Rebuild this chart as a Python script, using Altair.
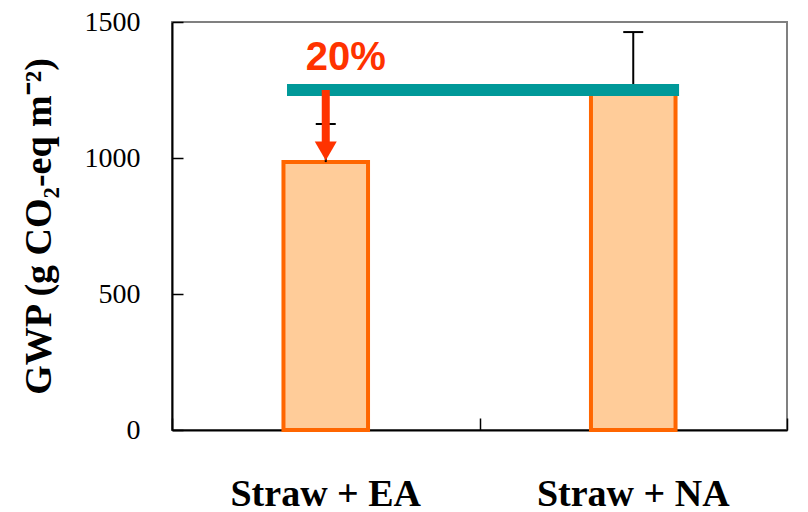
import altair as alt
import pandas as pd

# Treatments and their global warming potential (g CO2-eq m-2)
treatments = ["Straw + EA", "Straw + NA"]
gwp_mean = [985, 1235]
gwp_err = [140, 228]

# Reference level of the Straw + NA treatment drawn across both bars
level_start = "Straw + EA"
level_end = "Straw + NA"
level_value = 1250

# Reduction arrow (data units) and its label
arrow_top = 1250
arrow_shaft_end = 1048
arrow_head = 1026
reduction_text = "20%"
reduction_label_y = 1324

y_ticks = [0, 500, 1000, 1500]

bars_df = pd.DataFrame({
    "treatment": treatments,
    "mean": gwp_mean,
    "upper": [m + e for m, e in zip(gwp_mean, gwp_err)],
})
level_df = pd.DataFrame({"start": [level_start], "end": [level_end], "level": [level_value]})
arrow_df = pd.DataFrame({
    "treatment": [treatments[0]],
    "top": [arrow_top],
    "shaft_end": [arrow_shaft_end],
    "head": [arrow_head],
    "label_y": [reduction_label_y],
    "label": [reduction_text],
})

W, H = 615, 408
xscale = alt.Scale(domain=treatments, paddingInner=0, paddingOuter=0)
yscale = alt.Scale(domain=[0, 1500], nice=False, zero=True)

main_x_axis = alt.Axis(
    orient="bottom", title="", ticks=False, tickSize=0, grid=False,
    labelAngle=0, labelPadding=75, labelBaseline="alphabetic", labelLimit=0,
    labelFont="Liberation Serif", labelFontWeight="bold", labelFontSize=38,
    labelColor="black", domainColor="black", domainWidth=2,
)
main_y_axis = alt.Axis(
    orient="left", values=y_ticks, format="d", ticks=False, tickSize=0, grid=False,
    labelPadding=32, labelFont="Liberation Serif", labelFontSize=28,
    labelColor="black", domainColor="black", domainWidth=2,
    title="GWP (g CO₂-eq m⁻²)", titleFont="Liberation Serif",
    titleFontWeight="bold", titleFontSize=38, titleColor="black",
    titleAngle=270, titleX=-122, titleY=204, titleAlign="center",
    titleBaseline="alphabetic",
)
# Inward-pointing tick marks on the category and value axes
inner_x_axis = alt.Axis(
    orient="top", offset=-H, title="", labels=False, domain=False, grid=False,
    ticks=True, tickSize=12, tickBand="extent", tickColor="black", tickWidth=1.5,
)
inner_y_axis = alt.Axis(
    orient="right", offset=-W, title="", labels=False, domain=False, grid=False,
    values=y_ticks, ticks=True, tickSize=11, tickColor="black", tickWidth=1.5,
)

bars = alt.Chart(bars_df).mark_bar(
    width=alt.RelativeBandSize(band=0.275), fill="#FFCC99",
    stroke="#FF6600", strokeWidth=4,
).encode(
    x=alt.X("treatment:N", scale=xscale, axis=main_x_axis, sort=treatments),
    y=alt.Y("mean:Q", scale=yscale, axis=main_y_axis),
)

err_lines = alt.Chart(bars_df).mark_rule(color="black", strokeWidth=2).encode(
    x=alt.X("treatment:N", scale=xscale, axis=inner_x_axis, sort=treatments),
    y=alt.Y("mean:Q", scale=yscale, axis=inner_y_axis),
    y2="upper:Q",
)

err_caps = alt.Chart(bars_df).mark_tick(color="black", thickness=2, size=20, opacity=1).encode(
    x=alt.X("treatment:N", scale=xscale, axis=None, sort=treatments),
    y=alt.Y("upper:Q", scale=yscale, axis=None),
)

level_line = alt.Chart(level_df).mark_rule(color="#009999", strokeWidth=12).encode(
    x=alt.X("start:N", scale=xscale, axis=None, bandPosition=0.374),
    x2=alt.X2("end", bandPosition=0.649),
    y=alt.Y("level:Q", scale=yscale, axis=None),
)

arrow_shaft = alt.Chart(arrow_df).mark_rule(color="#FF3300", strokeWidth=8).encode(
    x=alt.X("treatment:N", scale=xscale, axis=None),
    y=alt.Y("top:Q", scale=yscale, axis=None),
    y2="shaft_end:Q",
)

arrow_tip = alt.Chart(arrow_df).mark_point(
    shape="triangle-down", filled=True, size=484, color="#FF3300", opacity=1,
).encode(
    x=alt.X("treatment:N", scale=xscale, axis=None),
    y=alt.Y("head:Q", scale=yscale, axis=None),
)

arrow_label = alt.Chart(arrow_df).mark_text(
    font="Liberation Sans", fontWeight="bold", fontSize=40, color="#FF3300",
    baseline="alphabetic", align="center", dx=20,
).encode(
    x=alt.X("treatment:N", scale=xscale, axis=None),
    y=alt.Y("label_y:Q", scale=yscale, axis=None),
    text="label:N",
)

chart = alt.layer(
    bars, err_lines, err_caps, level_line, arrow_shaft, arrow_tip, arrow_label
).resolve_axis(
    x="independent", y="independent"
).properties(
    width=W, height=H,
    autosize=alt.AutoSizeParams(type="none"),
    padding={"left": 172, "top": 22, "right": 21, "bottom": 82},
    background="white",
).configure_view(
    stroke="#808080", strokeWidth=2,
)

chart.save("out.html", embed_options={"renderer": "svg", "actions": False})
